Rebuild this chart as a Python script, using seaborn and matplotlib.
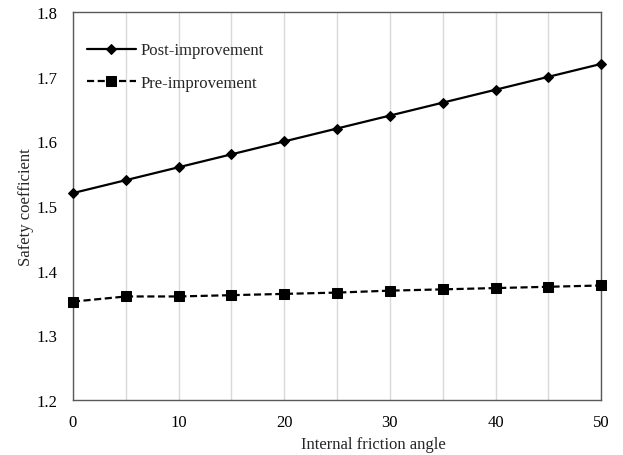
import matplotlib
matplotlib.use("Agg")
import matplotlib.pyplot as plt
import seaborn as sns
import pandas as pd
from matplotlib.ticker import MultipleLocator

angles = [0, 5, 10, 15, 20, 25, 30, 35, 40, 45, 50]
post_improvement = [1.52, 1.54, 1.56, 1.58, 1.60, 1.62, 1.64, 1.66, 1.68, 1.70, 1.72]
pre_improvement = [1.352, 1.360, 1.360, 1.362, 1.364, 1.366, 1.369, 1.371, 1.373, 1.375, 1.377]
x_label = "Internal friction angle"
y_label = "Safety coefficient"
series_names = ["Post-improvement", "Pre-improvement"]

sns.set_theme(style="white")
plt.rcParams["font.family"] = ["Liberation Serif", "DejaVu Serif"]

df_post = pd.DataFrame({"x": angles, "y": post_improvement})
df_pre = pd.DataFrame({"x": angles, "y": pre_improvement})

fig = plt.figure(figsize=(6.23, 4.56), dpi=100)
ax = fig.add_axes([0.117, 0.121, 0.848, 0.850])

sns.lineplot(data=df_post, x="x", y="y", ax=ax, color="black", linewidth=1.6,
             marker="D", markersize=4.8, markeredgecolor="black",
             label=series_names[0], clip_on=False, zorder=3)
sns.lineplot(data=df_pre, x="x", y="y", ax=ax, color="black", linewidth=1.6,
             linestyle=(0, (3.2, 1.6)), marker="s", markersize=7.5,
             markeredgecolor="black", label=series_names[1], clip_on=False, zorder=3)

ax.set_xlim(0, 50)
ax.set_ylim(1.2, 1.8)
ax.xaxis.set_major_locator(MultipleLocator(10))
ax.xaxis.set_minor_locator(MultipleLocator(5))
ax.yaxis.set_major_locator(MultipleLocator(0.1))
ax.grid(False)
ax.grid(True, axis="x", which="both", color="#d9d9d9", linewidth=1.0)
ax.set_axisbelow(True)

for s in ax.spines.values():
    s.set_color("#595959")
    s.set_linewidth(1.0)

ax.tick_params(axis="x", which="both", length=0, labelsize=12, colors="black", pad=10)
ax.tick_params(axis="y", which="both", length=0, labelsize=12, colors="black", pad=11)
ax.set_xlabel(x_label, fontsize=12)
ax.set_ylabel(y_label, fontsize=12)
ax.xaxis.set_label_coords(0.568, -0.094)
ax.yaxis.set_label_coords(-0.074, 0.5)

leg = ax.legend(loc="upper left", frameon=False, fontsize=12,
                bbox_to_anchor=(0.005, 0.952), borderaxespad=0.3,
                handlelength=2.9, handletextpad=0.3, labelspacing=0.98)

fig.savefig("out.png", dpi=100)
